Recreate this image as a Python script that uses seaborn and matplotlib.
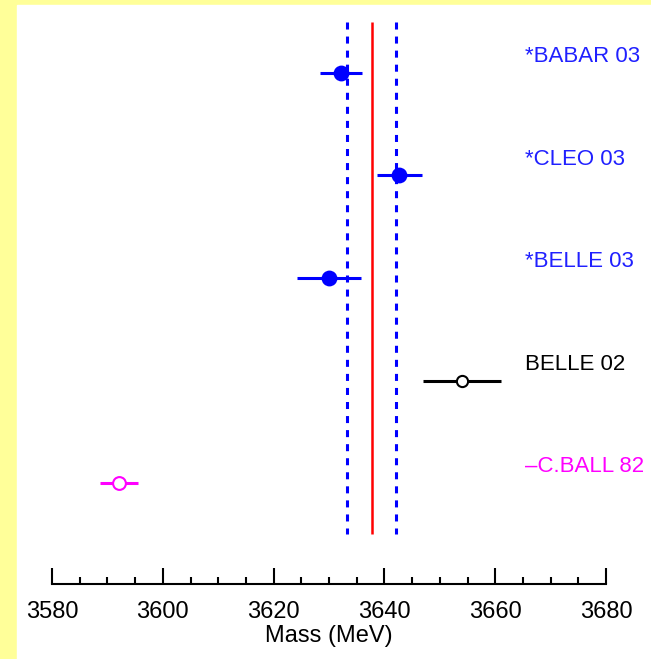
import matplotlib
matplotlib.use("Agg")
import matplotlib.pyplot as plt
import seaborn as sns
import pandas as pd
from matplotlib.ticker import MultipleLocator

labels = ["*BABAR 03", "*CLEO 03", "*BELLE 03", "BELLE 02", "\u2013C.BALL 82"]
masses = [3632.2, 3642.7, 3630.0, 3654.0, 3592.1]
errors = [3.8, 4.0, 5.8, 7.0, 3.5]
colors = ["#0000ff", "#0000ff", "#0000ff", "black", "#ff00ff"]
text_colors = ["#2020ff", "#2020ff", "#2020ff", "black", "#ff00ff"]
filled = [True, True, True, False, False]

# average and its error band
avg_mass = 3637.7
avg_err = 4.4

df = pd.DataFrame({"label": labels, "mass": masses, "err": errors,
                   "color": colors, "filled": filled,
                   "pos": range(1, len(labels) + 1)})

sns.set_style("white")
plt.rcParams["font.family"] = ["Liberation Sans", "DejaVu Sans"]

fig = plt.figure(figsize=(6.51, 6.59), dpi=100, facecolor="#ffff99")
# white panel leaving a yellow strip on the left and top
fig.patches.append(plt.Rectangle((17 / 651, 0), 1, (659 - 5) / 659,
                                 transform=fig.transFigure, color="white", zorder=-10))
ax = fig.add_axes([52 / 651, 75 / 659, 554 / 651, 579 / 659])
ax.set_facecolor("none")
ax.set_zorder(5)

# average lines
ax.vlines(avg_mass, 0.5, 5.5, color="red", lw=1.8, zorder=1)
for x in (avg_mass - avg_err, avg_mass + avg_err):
    ax.vlines(x, 0.5, 5.5, color="blue", lw=2.2, linestyles=(0, (2.3, 2.3)), zorder=1)

# error bars
for _, r in df.iterrows():
    ax.hlines(r["pos"], r["mass"] - r["err"], r["mass"] + r["err"],
              color=r["color"], lw=2.2, zorder=2)

sns.scatterplot(data=df[df["filled"]], x="mass", y="pos", color="blue",
                s=130, edgecolor="blue", linewidth=0, ax=ax, zorder=3)
for _, r in df[~df["filled"]].iterrows():
    sz = 65 if r["label"] == "BELLE 02" else 85
    ax.scatter(r["mass"], r["pos"], s=sz, facecolors="white",
               edgecolors=r["color"], linewidths=1.5, zorder=3)

for _, r in df.iterrows():
    ax.text(3665.4, r["pos"] - 0.16, r["label"], color=text_colors[r["pos"] - 1],
            fontsize=16, ha="left", va="center", clip_on=False)

ax.set_xlim(3580, 3680)
ax.set_ylim(5.985, 0.337)
ax.set_yticks([])
ax.set_ylabel("")
ax.xaxis.set_major_locator(MultipleLocator(20))
ax.xaxis.set_minor_locator(MultipleLocator(5))
ax.tick_params(axis="x", which="major", direction="in", length=11.5, width=1.5,
               color="black", labelcolor="black", labelsize=17, pad=12, bottom=True)
ax.tick_params(axis="x", which="minor", direction="in", length=5, width=1.5,
               color="black", bottom=True)
for side in ("top", "left", "right"):
    ax.spines[side].set_visible(False)
ax.spines["bottom"].set_linewidth(1.5)
ax.spines["bottom"].set_color("black")
ax.set_xlabel("Mass (MeV)", fontsize=17, labelpad=2, color="black")

plt.savefig("out.png", dpi=100, facecolor=fig.get_facecolor())
